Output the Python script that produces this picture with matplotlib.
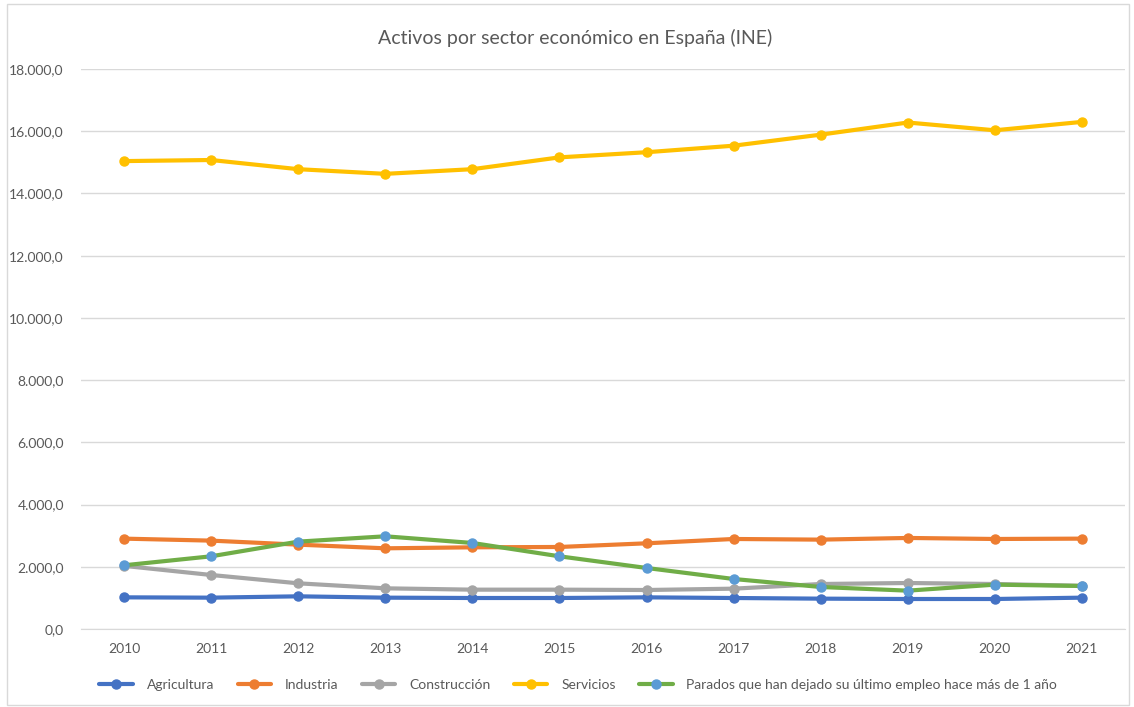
import matplotlib
matplotlib.use("Agg")
import matplotlib.pyplot as plt
from matplotlib.ticker import FuncFormatter
from matplotlib.patches import Rectangle

plt.rcParams['font.family'] = ['Lato', 'DejaVu Sans']

# datos (miles de personas)
years = ['2010', '2011', '2012', '2013', '2014', '2015', '2016', '2017', '2018', '2019', '2020', '2021']
agricultura = [1018, 1008, 1051, 1008, 997, 997, 1018, 997, 976, 965, 965, 1008]
industria = [2905, 2841, 2712, 2594, 2626, 2637, 2755, 2894, 2873, 2927, 2894, 2905]
construccion = [2030, 1737, 1469, 1308, 1265, 1265, 1254, 1297, 1447, 1479, 1447, 1390]
servicios = [15040, 15075, 14780, 14630, 14780, 15160, 15325, 15535, 15890, 16280, 16030, 16300]
parados = [2048, 2337, 2809, 2980, 2766, 2337, 1962, 1608, 1351, 1233, 1426, 1383]

labels = ['Agricultura', 'Industria', 'Construcción', 'Servicios',
          'Parados que han dejado su último empleo hace más de 1 año']

fig = plt.figure(figsize=(11.34, 7.07), dpi=100)
ax = fig.add_axes([0.071, 0.1103, 0.9215, 0.7921])

x = list(range(len(years)))
series = [
    (agricultura, '#4472C4', '#4472C4'),
    (industria, '#ED7D31', '#ED7D31'),
    (construccion, '#A5A5A5', '#A5A5A5'),
    (servicios, '#FFC000', '#FFC000'),
    (parados, '#70AD47', '#5B9BD5'),
]
for (vals, col, mcol), lab in zip(series, labels):
    ax.plot(x, vals, color=col, lw=3, marker='o', markersize=6.5,
            markerfacecolor=mcol, markeredgecolor=mcol, label=lab,
            solid_capstyle='round', zorder=3)

ax.set_xlim(-0.5, len(years) - 0.5)
ax.set_ylim(0, 18000)
ax.set_yticks(range(0, 18001, 2000))
ax.yaxis.set_major_formatter(FuncFormatter(
    lambda v, p: '{:,.1f}'.format(v).replace(',', 'X').replace('.', ',').replace('X', '.')))
ax.set_xticks(x)
ax.set_xticklabels(years)
ax.grid(axis='y', color='#D9D9D9', lw=1)
ax.set_axisbelow(True)
for s in ['top', 'right', 'left']:
    ax.spines[s].set_visible(False)
ax.spines['bottom'].set_color('#D9D9D9')
ax.tick_params(axis='both', length=0, labelsize=10, colors='#595959', pad=10)
ax.tick_params(axis='y', pad=12)

fig.text(0.507, 0.947, 'Activos por sector económico en España (INE)',
         ha='center', va='center', fontsize=14, color='#595959')

fig.legend(loc='center', bbox_to_anchor=(0.51, 0.031), ncol=5, frameon=False,
           fontsize=10, labelcolor='#595959', handlelength=2.4, columnspacing=1.7,
           handletextpad=1.0)

fig.patches.append(Rectangle((0.006, 0.003), 0.99, 0.991, transform=fig.transFigure,
                             fill=False, edgecolor='#D9D9D9', lw=1))

fig.savefig('out.png', dpi=100)
